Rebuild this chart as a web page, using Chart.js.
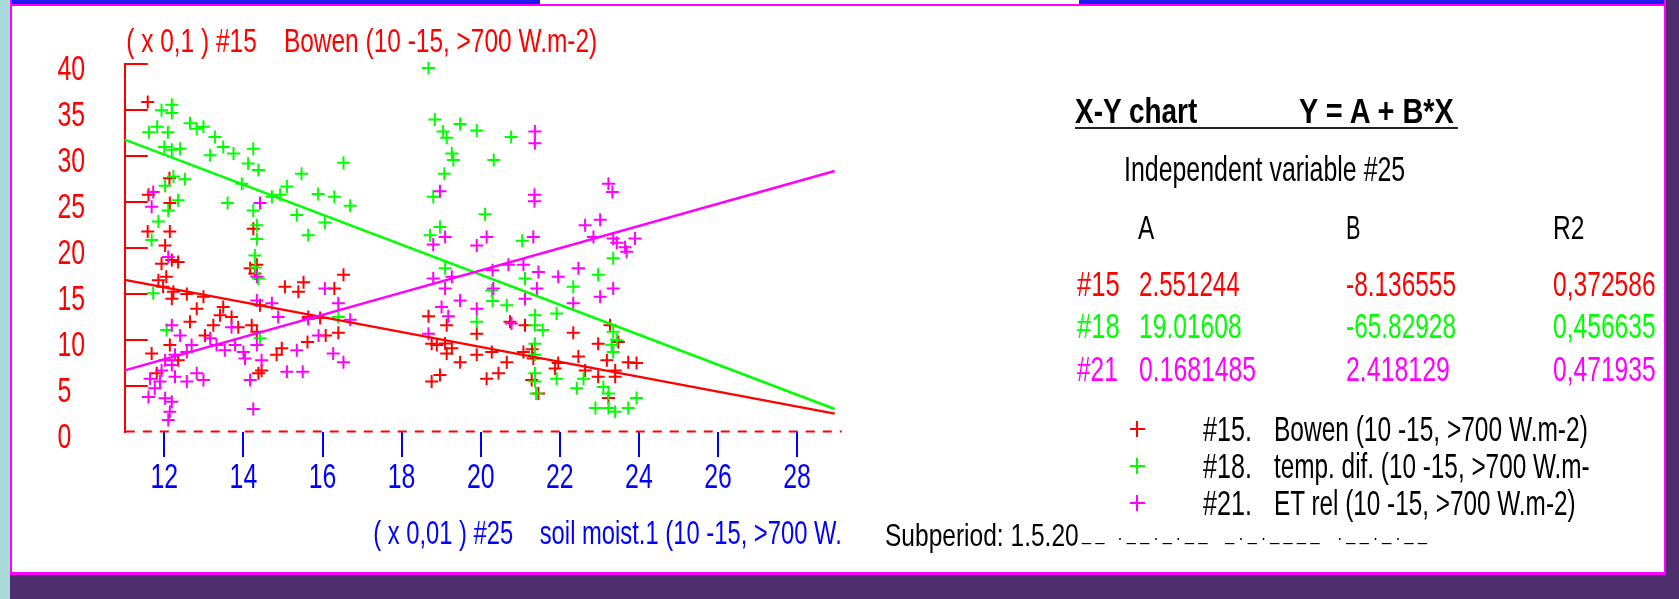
<!DOCTYPE html>
<html>
<head>
<meta charset="utf-8">
<script src="https://cdn.jsdelivr.net/npm/chart.js@4.4.1/dist/chart.umd.min.js"></script>
<style>
  html, body { margin: 0; padding: 0; }
  body { width: 1679px; height: 599px; position: relative; overflow: hidden; background: #ffffff;
         font-family: "Liberation Sans", Arial, sans-serif; }
  .blk { position: absolute; }
  #cv { position: absolute; left: 0; top: 0; }
  .t { position: absolute; white-space: pre; line-height: 1; transform-origin: 0 0; }
</style>
</head>
<body>
<!-- window frame -->
<div class="blk" style="left:0;top:0;width:10px;height:599px;background:#a9dbdb"></div>
<div class="blk" style="left:10px;top:575px;width:1669px;height:24px;background:#4f2e6e"></div>
<div class="blk" style="left:1666px;top:0;width:13px;height:599px;background:#4f2e6e"></div>
<div class="blk" style="left:10px;top:4px;width:1656px;height:2px;background:#ff00ff"></div>
<div class="blk" style="left:10px;top:0;width:2px;height:575px;background:#ff00ff"></div>
<div class="blk" style="left:1664px;top:0;width:2px;height:575px;background:#ff00ff"></div>
<div class="blk" style="left:10px;top:572px;width:1656px;height:3px;background:#ff00ff"></div>
<div class="blk" style="left:12px;top:0;width:528px;height:4px;background:#1c1cf0"></div>
<div class="blk" style="left:1079px;top:0;width:585px;height:4px;background:#1c1cf0"></div>

<canvas id="cv" width="1679" height="599"></canvas>
<div id="panel"></div>

<script>
// ---------------- data ----------------
const xTickValues = [12, 14, 16, 18, 20, 22, 24, 26, 28];
const xTickLabels = ['12', '14', '16', '18', '20', '22', '24', '26', '28'];
const yTickValues = [0, 5, 10, 15, 20, 25, 30, 35, 40];
const yTickLabels = ['0', '5', '10', '15', '20', '25', '30', '35', '40'];

const yTitle = '( x 0,1 ) #15    Bowen (10 -15, >700 W.m-2)';
const xTitle = '( x 0,01 ) #25    soil moist.1 (10 -15, >700 W.';

// #15 Bowen
const bowenPoints = [
  [11.58,35.9],[12.13,27.6],[11.6,25.8],[12.14,24.9],[11.58,21.8],[12.14,21.8],[12.02,20.3],[14.25,22.1],
  [12.19,18.7],[12.35,18.5],[11.93,18.3],[11.85,16.5],[12.05,16.9],[11.97,15.8],[12.23,15.25],[12.19,14.5],
  [12.57,15.0],[12.99,14.7],[12.82,13.4],[12.65,12.0],[13.03,10.5],[12.14,9.46],[11.68,8.55],[12.35,7.8],
  [11.81,6.4],[13.49,13.6],[13.41,12.7],[13.24,11.6],[13.7,12.5],[13.87,11.4],[14.21,11.6],[14.34,10.9],
  [14.17,17.8],[14.34,18.2],[14.29,17.25],[14.42,13.8],[14.97,9.1],[14.84,8.4],[14.38,6.4],[14.46,6.7],
  [15.62,9.8],[15.64,12.5],[15.05,15.8],[15.39,15.25],[15.52,16.3],[16.53,17.1],[16.3,15.6],[15.94,12.4],
  [16.08,10.5],[16.4,10.8],[18.68,12.6],[19.14,11.6],[18.76,9.6],[18.89,9.46],[19.1,9.64],[19.27,9.1],
  [19.14,8.55],[19.48,7.6],[19.9,8.4],[19.9,10.7],[20.28,8.7],[20.15,5.8],[18.76,5.5],[18.97,6.2],
  [20.74,12.0],[21.12,11.6],[22.34,10.8],[22.97,9.6],[23.27,11.6],[23.48,9.8],[20.66,7.6],[20.45,6.4],
  [21.08,8.7],[21.33,8.0],[21.3,9.0],[21.46,4.2],[21.29,5.65],[21.96,7.5],[21.88,6.9],[22.47,8.2],
  [22.64,6.7],[22.97,6.0],[23.19,7.8],[23.4,6.7],[23.73,7.6],[23.94,7.5],[23.23,3.7],[23.4,6.0]
];

// #18 temp. dif.
const tempPoints = [
  [11.93,35.0],[12.19,35.6],[12.19,34.7],[11.61,32.6],[11.82,33.2],[12.09,32.6],[12.0,31.0],[12.19,30.7],
  [12.4,30.8],[12.65,33.6],[12.82,33.0],[12.99,33.2],[13.28,32.1],[13.49,31.0],[13.75,30.3],[14.25,30.8],
  [13.16,30.1],[14.12,29.2],[14.38,28.5],[13.96,27.0],[15.47,28.1],[12.23,27.8],[12.52,27.5],[12.02,26.8],
  [12.35,25.2],[12.1,24.1],[11.85,22.9],[11.68,20.9],[13.6,24.9],[14.25,24.1],[14.34,22.5],[14.34,21.0],
  [14.72,25.6],[14.93,25.8],[15.1,26.7],[15.35,23.6],[15.64,21.4],[15.89,25.9],[18.68,39.6],[18.84,34.0],
  [19.05,32.7],[19.14,32.0],[19.48,33.5],[19.9,32.8],[19.27,30.3],[19.31,29.6],[20.33,29.6],[19.08,28.1],
  [18.8,25.6],[16.53,29.3],[16.3,25.6],[16.7,24.6],[16.06,22.8],[20.11,23.7],[18.72,21.4],[18.97,22.3],
  [20.77,32.1],[21.05,20.8],[19.1,17.8],[16.4,12.5],[19.9,12.0],[20.3,14.25],[20.28,15.4],[23.35,18.9],
  [22.97,17.1],[21.12,16.7],[22.34,15.8],[20.66,13.8],[21.92,12.9],[21.37,12.7],[21.37,11.6],[21.57,11.1],
  [21.37,9.6],[21.37,8.4],[21.37,6.4],[21.37,5.5],[21.4,4.2],[21.92,5.8],[22.43,4.75],[22.6,5.8],
  [22.9,2.6],[23.1,4.9],[23.23,4.2],[23.23,2.6],[23.4,2.2],[23.73,2.6],[23.94,3.7],[23.35,10.9],
  [23.44,10.0],[23.31,9.5],[23.35,8.7],[11.72,15.1],[12.06,11.1],[14.29,19.2],[14.38,16.7],[14.42,10.2],
  [14.3,17.9]
];

// #21 ET rel
const etPoints = [
  [11.72,26.1],[11.68,24.5],[14.42,24.9],[18.97,26.2],[19.1,21.2],[18.8,20.4],[20.15,21.2],[19.9,20.3],
  [21.37,32.7],[21.37,31.4],[21.36,25.8],[21.36,25.1],[23.23,27.0],[23.33,26.1],[23.02,23.1],[22.64,22.5],
  [21.33,21.2],[22.85,21.2],[23.35,21.05],[23.44,20.6],[23.9,21.05],[23.65,20.1],[16.06,15.6],[16.4,14.0],
  [15.64,12.3],[15.9,10.5],[16.27,8.55],[16.53,7.6],[16.7,12.2],[15.5,6.55],[18.8,16.7],[19.27,16.9],
  [19.1,15.6],[19.01,13.6],[19.18,12.6],[19.48,14.3],[19.9,13.4],[18.68,10.7],[20.3,17.6],[20.7,18.2],
  [21.08,18.2],[21.46,17.4],[21.96,16.9],[22.47,17.8],[20.32,15.6],[21.42,15.6],[21.12,14.5],[23.02,14.7],
  [23.35,15.6],[22.34,14.0],[20.78,11.8],[23.69,19.6],[12.19,11.6],[12.4,10.5],[12.69,9.46],[12.57,8.7],
  [12.27,8.4],[12.02,7.8],[12.19,7.3],[11.93,6.7],[12.27,6.0],[12.57,5.5],[12.82,6.4],[12.99,5.65],
  [11.64,5.8],[11.76,4.75],[11.6,3.8],[12.02,3.66],[12.19,3.3],[12.1,1.3],[12.14,2.2],[11.89,5.5],
  [13.16,10.2],[13.32,9.46],[13.53,8.9],[13.79,9.46],[14.0,8.7],[13.7,11.4],[14.04,8.0],[14.34,9.46],
  [14.46,7.8],[14.17,5.65],[14.25,2.5],[14.34,14.3],[14.34,16.9],[14.72,14.0],[14.88,12.5],[15.35,8.9],
  [15.1,6.55],[12.1,19.05]
];

// regression lines, read at both ends of the x range
const fitX = [11, 28.95];
const bowenFit = [16.55, 2.0];
const tempFit = [31.8, 2.5];
const etFit = [6.7, 28.4];

// side table
const seriesIds = ['#15', '#18', '#21'];
const coefA = ['2.551244', '19.01608', '0.1681485'];
const coefB = ['-8.136555', '-65.82928', '2.418129'];
const coefR2 = ['0,372586', '0,456635', '0,471935'];
const legendIds = ['#15.', '#18.', '#21.'];
const legendNames = ['Bowen (10 -15, >700 W.m-2)', 'temp. dif. (10 -15, >700 W.m-', 'ET rel (10 -15, >700 W.m-2)'];
const subperiodText = 'Subperiod: 1.5.20';

// ---------------- styles ----------------
const RED = '#ff0000', GREEN = '#00ff00', MAG = '#ff00ff', BLUE = '#0000ff';
const seriesColors = [RED, GREEN, MAG];
const FONT = '"Liberation Sans", Arial, sans-serif';
const SX = 0.71;   // horizontal squeeze of the old bitmap font

const canvas = document.getElementById('cv');
const ctx = canvas.getContext('2d');
const rawFill = CanvasRenderingContext2D.prototype.fillText;
ctx.fillText = function (t, x, y) {
  this.save(); this.translate(x, y); this.scale(SX, 1); rawFill.call(this, t, 0, 0); this.restore();
};

const toPts = arr => arr.map(([x, y]) => ({ x, y }));
const fitPts = ys => fitX.map((x, i) => ({ x, y: ys[i] }));

function pointSet(label, arr, color) {
  return { label, data: toPts(arr), pointStyle: 'cross', pointRadius: 6.5, pointHoverRadius: 6.5,
           pointBorderWidth: 2, borderColor: color, backgroundColor: color, showLine: false, clip: false };
}
function lineSet(label, ys, color) {
  return { label, data: fitPts(ys), showLine: true, borderColor: color, borderWidth: 2.5,
           pointRadius: 0, fill: false, clip: false };
}

// red title above the y axis
const topTitle = {
  id: 'topTitle',
  afterDraw(chart) {
    const c = chart.ctx, a = chart.chartArea;
    c.save();
    c.font = '33.5px ' + FONT;
    c.fillStyle = RED; c.textAlign = 'left'; c.textBaseline = 'alphabetic';
    const w = c.measureText(yTitle).width;
    c.translate(a.left + 1.5, 52);
    c.scale(471 / w, 1);
    rawFill.call(c, yTitle, 0, 0);
    c.restore();
  }
};

// dashed red x axis line at y = 0
const zeroLine = {
  id: 'zeroLine',
  beforeDatasetsDraw(chart) {
    const c = chart.ctx, xs = chart.scales.x, ys = chart.scales.y;
    const y0 = Math.round(ys.getPixelForValue(0)) - 0.5;
    c.save();
    c.strokeStyle = RED; c.lineWidth = 2; c.setLineDash([9, 8]);
    c.beginPath(); c.moveTo(xs.left + 1, y0); c.lineTo(xs.right, y0); c.stroke();
    c.restore();
  }
};

new Chart(ctx, {
  type: 'scatter',
  data: {
    datasets: [
      lineSet('fit #21', etFit, MAG),
      lineSet('fit #18', tempFit, GREEN),
      lineSet('fit #15', bowenFit, RED),
      pointSet('#21. ET rel', etPoints, MAG),
      pointSet('#18. temp. dif.', tempPoints, GREEN),
      pointSet('#15. Bowen', bowenPoints, RED)
    ]
  },
  options: {
    responsive: false, animation: false, devicePixelRatio: 1,
    layout: { padding: { left: 57.4, top: 64.3, right: 837.2, bottom: 30 } },
    plugins: { legend: { display: false }, tooltip: { enabled: false }, title: { display: false } },
    scales: {
      x: {
        type: 'linear', position: 'bottom', min: 11, max: 29.13,
        afterFit: s => { s.height = 137; },
        afterBuildTicks: s => { s.ticks = xTickValues.map(v => ({ value: v })); },
        grid: { drawOnChartArea: false, drawTicks: true, tickLength: 25, color: BLUE, lineWidth: 2 },
        border: { display: false },
        ticks: { color: BLUE, font: { family: FONT, size: 35 }, padding: 0, maxRotation: 0, minRotation: 0,
                 autoSkip: false, callback: (v, i) => xTickLabels[i] },
        title: { display: true, text: xTitle, align: 'end', color: BLUE,
                 font: { family: FONT, size: 33.5 }, padding: { top: 0, bottom: 14 } }
      },
      y: {
        type: 'linear', position: 'left', min: 0, max: 40,
        afterFit: s => { s.width = 124.75 - 57.4; },
        afterBuildTicks: s => { s.ticks = yTickValues.map(v => ({ value: v })); },
        grid: { drawOnChartArea: false, drawTicks: true, tickLength: -23, lineWidth: 2,
                color: c => (c.tick && c.tick.value === 0) ? 'rgba(0,0,0,0)' : RED },
        border: { display: true, color: RED, width: 2 },
        ticks: { color: RED, font: { family: FONT, size: 35 }, crossAlign: 'far', labelOffset: 6.5,
                 autoSkip: false, callback: (v, i) => yTickLabels[i] }
      }
    }
  },
  plugins: [zeroLine, topTitle]
});

// ---------------- side panel (HTML text) ----------------
const panel = document.getElementById('panel');
function addText(text, left, capTop, capH, width, color, bold) {
  const fs = capH / 0.716;
  const el = document.createElement('div');
  el.className = 't';
  el.textContent = text;
  el.style.fontSize = fs + 'px';
  el.style.color = color || '#000';
  if (bold) el.style.fontWeight = 'bold';
  el.style.left = left + 'px';
  el.style.top = (capTop - 0.1305 * fs) + 'px';
  panel.appendChild(el);
  if (width) {
    const w = el.getBoundingClientRect().width;
    el.style.transform = 'scaleX(' + (width / w) + ')';
  }
  return el;
}
function addBox(left, top, w, h, color) {
  const el = document.createElement('div');
  el.className = 'blk';
  Object.assign(el.style, { left: left + 'px', top: top + 'px', width: w + 'px', height: h + 'px', background: color });
  panel.appendChild(el);
}
function addCross(cx, cy, color) {
  addBox(cx - 7.5, cy - 1, 15, 2, color);
  addBox(cx - 1, cy - 8, 2, 16, color);
}

addText('X-Y chart', 1074.6, 98.3, 25, 122.3, '#000', true);
addText('Y = A + B*X', 1298.8, 98.3, 25, 154.8, '#000', true);
addBox(1074.6, 126.5, 383, 2.5, '#222');
addText('Independent variable #25', 1123.5, 156.7, 25, 281.2, '#000');
addText('A', 1137.8, 215, 24, 16.3, '#000');
addText('B', 1345.6, 215, 24, 14.5, '#000');
addText('R2', 1552.6, 215, 24, 31.4, '#000');

const rowCapTop = [271.7, 313.3, 356.7];
const idW = [42.8, 42.8, 40.7], aW = [100.7, 102.7, 117], bW = [110, 110, 103.9];
seriesIds.forEach((id, i) => {
  const c = seriesColors[i];
  addText(id, 1076.7, rowCapTop[i], 25, idW[i], c);
  addText(coefA[i], 1139, rowCapTop[i], 25, aW[i], c);
  addText(coefB[i], 1345.6, rowCapTop[i], 25, bW[i], c);
  addText(coefR2[i], 1552.6, rowCapTop[i], 25, 102.7, c);
});

const legCapTop = [416.7, 453.3, 490.7];
const nameW = [313.8, 315.7, 301.6];
legendIds.forEach((id, i) => {
  addCross(1137.4, legCapTop[i] + 12.5, seriesColors[i]);
  addText(id, 1203, legCapTop[i], 25, 48.9, '#000');
  addText(legendNames[i], 1274.3, legCapTop[i], 25, nameW[i], '#000');
});

addText(subperiodText, 885, 524.5, 22.3, 193.7, '#000');
addText('_ _   . _ _ . _ . _ _    _ . _ . _ _ _ _    . _ _ . _ . _ _', 1082, 527, 13, 345, '#000');
</script>
</body>
</html>
